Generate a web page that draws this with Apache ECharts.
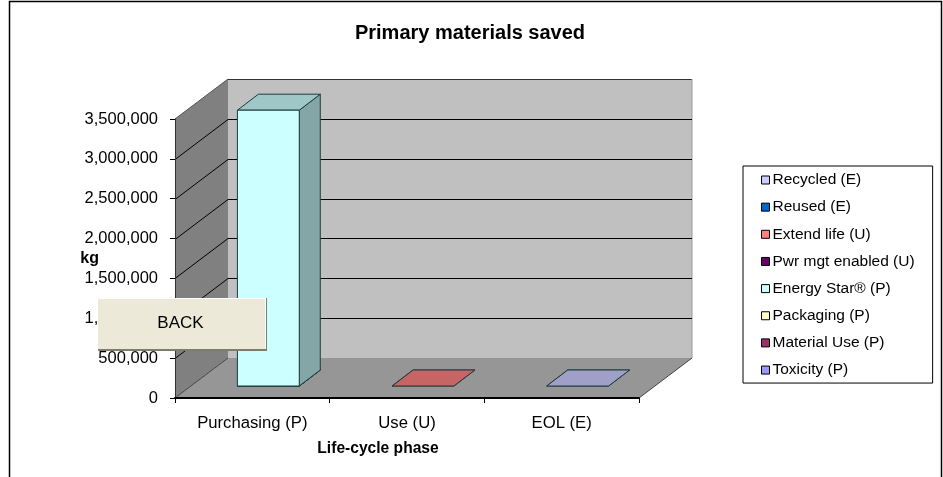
<!DOCTYPE html>
<html>
<head>
<meta charset="utf-8">
<style>html,body{margin:0;padding:0;background:#fff}#c{width:943px;height:477px}</style>
<script src="https://cdn.jsdelivr.net/npm/echarts@6/dist/echarts.min.js"></script>
</head>
<body>
<div id="c"></div>
<script>
const categories = ['Purchasing (P)', 'Use (U)', 'EOL (E)'];
const yTicks = [0, 500000, 1000000, 1500000, 2000000, 2500000, 3000000, 3500000];
// stack order, bottom to top
const toxicity   = [0, null, null];
const materialUse = [0, null, null];
const packaging  = [0, null, null];
const energyStar = [3460000, null, null];
const pwrMgt     = [null, 0, null];
const extendLife = [null, 0, null];
const reused     = [null, null, 0];
const recycled   = [null, null, 0];
const stackSeries = [
  ['Toxicity (P)', toxicity, '#9999FF'],
  ['Material Use (P)', materialUse, '#993366'],
  ['Packaging (P)', packaging, '#FFFFCC'],
  ['Energy Star® (P)', energyStar, '#CCFFFF'],
  ['Pwr mgt enabled (U)', pwrMgt, '#660066'],
  ['Extend life (U)', extendLife, '#FF8080'],
  ['Reused (E)', reused, '#0066CC'],
  ['Recycled (E)', recycled, '#CCCCFF']
];
const FONT = '"Liberation Sans", Arial, sans-serif';
const DEPTH_X = 53, DEPTH_Y = -40;   // 3-D wall depth
const BAR_OFF_X = 16, BAR_OFF_Y = -12, BAR_DX = 21, BAR_DY = -16;
const BAR_RATIO = 0.4;

function shade(hex, f) {
  const n = parseInt(hex.slice(1), 16);
  const c = [n >> 16, (n >> 8) & 255, n & 255].map(v => Math.round(v * f));
  return 'rgb(' + c.join(',') + ')';
}
function poly(points, fill, stroke, w) {
  return { type: 'polygon', shape: { points }, style: { fill, stroke: stroke || 'none', lineWidth: w || 1 }, silent: true };
}
function seg(a, b, stroke, w) {
  return { type: 'line', shape: { x1: a[0], y1: a[1], x2: b[0], y2: b[1] }, style: { stroke, lineWidth: w || 1 }, silent: true };
}

function renderWalls(params, api) {
  const cs = params.coordSys;
  const x0 = cs.x, x1 = cs.x + cs.width;
  const yBot = api.coord([0, yTicks[0]])[1];
  const yTop = api.coord([0, yTicks[yTicks.length - 1]])[1];
  const children = [
    poly([[x0 + DEPTH_X, yTop + DEPTH_Y], [x1 + DEPTH_X, yTop + DEPTH_Y], [x1 + DEPTH_X, yBot + DEPTH_Y], [x0 + DEPTH_X, yBot + DEPTH_Y]], '#C0C0C0'),
    poly([[x0, yTop], [x0 + DEPTH_X, yTop + DEPTH_Y], [x0 + DEPTH_X, yBot + DEPTH_Y], [x0, yBot]], '#808080'),
    poly([[x0, yBot], [x0 + DEPTH_X, yBot + DEPTH_Y], [x1 + DEPTH_X, yBot + DEPTH_Y], [x1, yBot]], '#969696'),
    seg([x0 + DEPTH_X, yTop + DEPTH_Y + 0.5], [x1 + DEPTH_X, yTop + DEPTH_Y + 0.5], '#333'),
    seg([x0, yTop], [x0 + DEPTH_X, yTop + DEPTH_Y], '#555'),
    seg([x0, yBot], [x0 + DEPTH_X, yBot + DEPTH_Y], '#444'),
    seg([x1, yBot], [x1 + DEPTH_X, yBot + DEPTH_Y], '#444'),
    seg([x1 + DEPTH_X, yTop + DEPTH_Y], [x1 + DEPTH_X, yBot + DEPTH_Y], '#999')
  ];
  yTicks.slice(1, -1).forEach(v => {
    const y = Math.round(api.coord([0, v])[1]) + 0.5;
    children.push(seg([x0, y], [x0 + DEPTH_X, y + DEPTH_Y], '#000'));
    children.push(seg([x0 + DEPTH_X, y + DEPTH_Y], [x1 + DEPTH_X, y + DEPTH_Y], '#000'));
  });
  return { type: 'group', children };
}

function renderBar(seriesIdx) {
  return function (params, api) {
    const cat = api.value(0), val = api.value(1);
    const base = stackSeries.slice(0, seriesIdx).reduce((s, d) => s + (d[1][cat] || 0), 0);
    const bot = api.coord([cat, base]);
    const top = api.coord([cat, base + val]);
    const w = api.size([1, 0])[0] * BAR_RATIO;
    const color = stackSeries[seriesIdx][2];
    const l = bot[0] - w / 2 + BAR_OFF_X, r = l + w;
    const yb = bot[1] + BAR_OFF_Y, yt = top[1] + BAR_OFF_Y;
    const ln = '#1c3c3c';
    const children = [];
    if (val > 0) {
      children.push(poly([[r, yt], [r + BAR_DX, yt + BAR_DY], [r + BAR_DX, yb + BAR_DY], [r, yb]], shade(color, 0.65), ln));
    }
    children.push(poly([[l, yt], [l + BAR_DX, yt + BAR_DY], [r + BAR_DX, yt + BAR_DY], [r, yt]], shade(color, 0.78), ln));
    if (val > 0) {
      children.push(poly([[l, yt], [r, yt], [r, yb], [l, yb]], color, ln));
    }
    return { type: 'group', children };
  };
}

const series = [{
  name: 'walls', type: 'custom', silent: true, clip: false, z: 1,
  renderItem: renderWalls, data: [[0, 0]], encode: { x: 0, y: 1 }
}].concat(stackSeries.map((s, i) => ({
  name: s[0], type: 'custom', clip: false, z: 2 + i,
  itemStyle: { color: s[2] },
  renderItem: renderBar(i),
  encode: { x: 0, y: 1 },
  data: s[1].map((v, c) => [c, v]).filter(d => d[1] !== null)
})));

const chart = echarts.init(document.getElementById('c'), null, { renderer: 'canvas' });
chart.setOption({
  animation: false,
  backgroundColor: '#fff',
  textStyle: { fontFamily: FONT },
  title: {
    text: 'Primary materials saved', left: 470, top: 18, textAlign: 'center', textVerticalAlign: 'top',
    padding: [5, 10, 5, 0],
    textStyle: { fontFamily: FONT, fontSize: 20, fontWeight: 'bold', color: '#000' }
  },
  legend: {
    orient: 'vertical', left: 743, top: 166, padding: [6, 18, 5, 18],
    data: stackSeries.map(s => s[0]).reverse(),
    icon: 'rect', itemWidth: 8, itemHeight: 8, itemGap: 11.15, selectedMode: false,
    borderColor: '#000', borderWidth: 1, backgroundColor: '#fff',
    itemStyle: { borderColor: '#000', borderWidth: 1 },
    textStyle: { fontFamily: FONT, fontSize: 15.5, color: '#000', padding: [0, 0, 0, -2] }
  },
  grid: { left: 175, top: 119, width: 464, height: 279, containLabel: false },
  xAxis: {
    type: 'category', data: categories, z: 20,
    axisLine: { lineStyle: { color: '#000', width: 2 } },
    axisTick: { show: true, length: 5, lineStyle: { color: '#000' } },
    axisLabel: { fontFamily: FONT, fontSize: 16.7, color: '#000', margin: 17 },
    name: 'Life-cycle phase', nameLocation: 'middle', nameGap: 43,
    nameTextStyle: { fontFamily: FONT, fontSize: 15.6, fontWeight: 'bold', color: '#000', padding: [0, 58, 0, 0] }
  },
  yAxis: {
    type: 'value', min: 0, max: 3500000, interval: 500000, z: 20,
    splitLine: { show: false },
    axisLine: { show: true, lineStyle: { color: '#333' } },
    axisTick: { show: true, length: 5, lineStyle: { color: '#000' } },
    axisLabel: { fontFamily: FONT, fontSize: 16.5, color: '#000', margin: 17, padding: [2, 0, 0, 0],
      formatter: v => v.toLocaleString('en-US') },
    name: 'kg', nameLocation: 'middle', nameRotate: 0, nameGap: 76, nameMoveOverlap: false,
    nameTextStyle: { fontFamily: FONT, fontSize: 16, fontWeight: 'bold', color: '#000' }
  },
  series,
  graphic: [
    { type: 'rect', z: 100, silent: true, shape: { x: 9.5, y: 1.5, width: 932, height: 520 },
      style: { fill: 'none', stroke: '#000', lineWidth: 1.5 } },
    { type: 'rect', z: 101, silent: true, shape: { x: 98, y: 298, width: 169, height: 53 }, style: { fill: '#807C6C' } },
    { type: 'rect', z: 102, silent: true, shape: { x: 97, y: 298, width: 169, height: 51 }, style: { fill: '#FFFFFF' } },
    { type: 'rect', z: 103, silent: true, shape: { x: 98, y: 299, width: 167, height: 50 }, style: { fill: '#ECE9D8' } },
    { type: 'text', z: 104, silent: true, style: { x: 180.5, y: 323, text: 'BACK', align: 'center', verticalAlign: 'middle',
      font: '17px ' + FONT, fill: '#000' } }
  ]
});
</script>
</body>
</html>
